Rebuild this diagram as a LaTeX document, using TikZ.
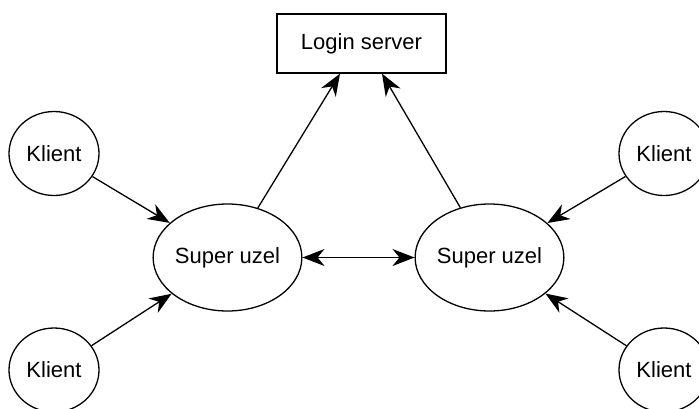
\documentclass[tikz,border=0pt]{standalone}
\usepackage{fontspec}
\setmainfont{Liberation Sans}
\usetikzlibrary{arrows.meta,shapes.geometric}

\tikzset{
  every node/.style={font=\fontsize{22}{26}\selectfont},
  client/.style={draw, ellipse, line width=1.3pt, minimum width=90pt, minimum height=84pt, inner sep=0pt},
  supernode/.style={draw, ellipse, line width=1.3pt, minimum width=142pt, minimum height=107pt, inner sep=0pt},
  server/.style={draw, rectangle, line width=1.3pt, minimum width=169pt, minimum height=59pt, inner sep=0pt},
  headtip/.tip={Stealth[length=22pt, width=17pt, inset=7pt]},
  link/.style={line width=1.3pt, -headtip},
  duplex/.style={line width=1.3pt, headtip-headtip}
}

\begin{document}
\begin{tikzpicture}[x=1pt, y=-1pt]
  \useasboundingbox (0,0) rectangle (699,408);
  \clip (0,0) rectangle (699,408);

  % login server
  \node[server] (login) at (361.5,43.5) {Login server};

  % super nodes
  \node[supernode] (sl) at (227.5,257.5) {Super uzel};
  \node[supernode] (sr) at (489.5,257.5) {Super uzel};

  % clients
  \node[client] (ktl) at (54,153.5) {Klient};
  \node[client] (kbl) at (54,370) {Klient};
  \node[client] (ktr) at (664,153.5) {Klient};
  \node[client] (kbr) at (664,370) {Klient};

  % connections
  \draw[link] (ktl) -- (sl);
  \draw[link] (kbl) -- (sl);
  \draw[link] (ktr) -- (sr);
  \draw[link] (kbr) -- (sr);
  \draw[link] (sl) -- ([xshift=-21.5pt]login.south);
  \draw[link] (sr) -- ([xshift=20.5pt]login.south);
  \draw[duplex] (sl) -- (sr);
\end{tikzpicture}
\end{document}
